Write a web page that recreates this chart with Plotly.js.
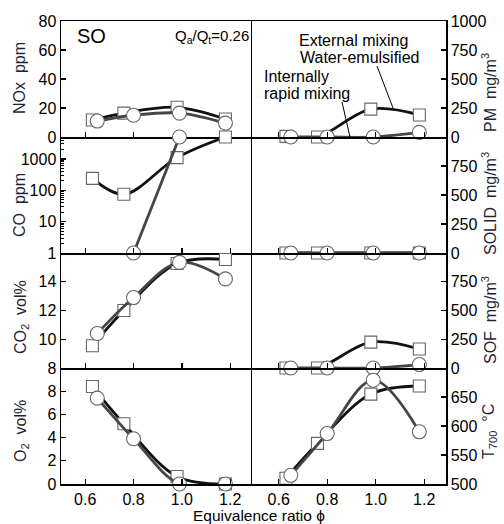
<!DOCTYPE html>
<html>
<head>
<meta charset="utf-8">
<script src="https://cdn.plot.ly/plotly-3.0.1.min.js"></script>
<style>html,body{margin:0;padding:0;background:#fff;}#chart{width:504px;height:524px;}</style>
</head>
<body>
<div id="chart"></div>
<script>
// ---- data ----
const phiSq = [0.63, 0.76, 0.98, 1.18];   // External mixing, water-emulsified (squares)
const phiCi = [0.65, 0.80, 0.99, 1.18];   // Internally rapid mixing (circles)

const noxSq = [11.7, 16.5, 20.5, 12.4];
const noxCi = [11.0, 15.0, 16.5, 9.6];
const coSq = [240, 75, 1100, 5000];
const coCi = [null, 1, 5000, null];
const co2Sq = [9.55, 12.0, 15.27, 15.55];
const co2Ci = [10.4, 12.9, 15.35, 14.2];
const o2Sq = [8.4, 5.2, 0.65, 0.0];
const o2Ci = [7.4, 3.9, 0.0, 0.0];

const pmSq = [5, 0, 240, 190];
const pmCi = [0, 0, 0, 40];
const solidSq = [0, 0, 0, 0];
const solidCi = [0, 0, 0, 0];
const sofSq = [0, 0, 225, 165];
const sofCi = [0, 0, 0, 30];
const tSq = [510, 570, 655, 669];
const tCi = [515, 587, 679, 590];

const xTicks = [0.6, 0.8, 1.0, 1.2];
const xTickText = ['0.6', '0.8', '1.0', '1.2'];
const noxTicks = [0, 20, 40, 60, 80];
const coTicks = [1, 10, 100, 1000];
const co2Ticks = [8, 10, 12, 14];
const o2Ticks = [0, 2, 4, 6, 8];
const pmTicks = [0, 250, 500, 750, 1000];
const solidTicks = [0, 250, 500, 750];
const sofTicks = [0, 250, 500, 750];
const tTicks = [500, 550, 600, 650];

// ---- styling ----
const FONT = 'Liberation Sans, Arial, sans-serif';
const sqLine = {color: '#111111', width: 2.8, shape: 'spline', smoothing: 1};
const ciLine = {color: '#454545', width: 2.8, shape: 'spline', smoothing: 1};
const sqMarker = {symbol: 'square', size: 12, color: '#ffffff', line: {color: '#666666', width: 1.1}};
const ciMarker = {symbol: 'circle', size: 14, color: '#ffffff', line: {color: '#666666', width: 1.1}};

const panels = [
  {sq: noxSq, ci: noxCi}, {sq: coSq, ci: coCi}, {sq: co2Sq, ci: co2Ci}, {sq: o2Sq, ci: o2Ci},
  {sq: pmSq, ci: pmCi}, {sq: solidSq, ci: solidCi}, {sq: sofSq, ci: sofCi}, {sq: tSq, ci: tCi}
];

const traces = [];
panels.forEach((p, i) => {
  const n = i + 1;
  const xa = 'x' + (n === 1 ? '' : n), ya = 'y' + (n === 1 ? '' : n);
  traces.push({x: phiSq, y: p.sq, xaxis: xa, yaxis: ya, mode: 'lines+markers', line: sqLine, marker: sqMarker,
    cliponaxis: false, showlegend: false, name: 'External mixing Water-emulsified', connectgaps: false});
  traces.push({x: phiCi, y: p.ci, xaxis: xa, yaxis: ya, mode: 'lines+markers', line: ciLine, marker: ciMarker,
    cliponaxis: false, showlegend: false, name: 'Internally rapid mixing', connectgaps: false});
});

const colX = [[61/504, 0.5], [0.5, 446/504]];
const rowY = [[1-137/524, 1-21/524], [1-253/524, 1-137/524], [1-368/524, 1-253/524], [1-484/524, 1-368/524]];
const xRanges = [[0.5, 1.29], [0.49, 1.29]];

const axBase = {showline: true, linecolor: '#000', linewidth: 1.5, ticks: 'inside', ticklen: 5,
  tickwidth: 1.3, tickcolor: '#000', showgrid: false, zeroline: false, automargin: false,
  tickfont: {family: FONT, size: 16, color: '#000'}, fixedrange: true};

const layout = {
  width: 504, height: 524, margin: {l: 0, r: 0, t: 0, b: 0},
  paper_bgcolor: '#fff', plot_bgcolor: 'rgba(0,0,0,0)',
  font: {family: FONT, size: 16, color: '#000'},
  showlegend: false
};

const yDefs = [
  {tickvals: noxTicks, range: [0, 80]},
  {tickvals: coTicks, ticktext: ['1', '10', '100', '1000'], type: 'log', range: [0, Math.log10(5000)]},
  {tickvals: co2Ticks, range: [8, 16]},
  {tickvals: o2Ticks, range: [0, 10]},
  {tickvals: pmTicks, range: [0, 1000]},
  {tickvals: solidTicks, range: [0, 1000]},
  {tickvals: sofTicks, range: [0, 1000]},
  {tickvals: tTicks, range: [500, 700]}
];

// minor log ticks for CO axis
const coMinor = [];
for (let d = 1; d <= 1000; d *= 10) for (let k = 2; k <= 9; k++) if (k * d <= 5000) coMinor.push(k * d);

for (let i = 0; i < 8; i++) {
  const n = i + 1;
  const col = i < 4 ? 0 : 1, row = i % 4;
  const xKey = 'xaxis' + (n === 1 ? '' : n), yKey = 'yaxis' + (n === 1 ? '' : n);
  const ya = 'y' + (n === 1 ? '' : n), xa = 'x' + (n === 1 ? '' : n);
  layout[xKey] = Object.assign({}, axBase, {
    domain: colX[col], range: xRanges[col], anchor: ya,
    tickmode: 'array', tickvals: xTicks, ticktext: xTickText,
    showticklabels: row === 3, mirror: row === 0
  });
  const yd = yDefs[i];
  layout[yKey] = Object.assign({}, axBase, {
    domain: rowY[row], anchor: xa, side: col === 0 ? 'left' : 'right',
    tickmode: 'array', tickvals: yd.tickvals, range: yd.range, mirror: col === 1
  });
  if (yd.type) layout[yKey].type = yd.type;
  if (yd.ticktext) layout[yKey].ticktext = yd.ticktext;
  if (i === 1) layout[yKey].minor = {tickmode: 'array', tickvals: coMinor, ticks: 'inside', ticklen: 3, tickwidth: 1, tickcolor: '#000'};
}

const titleColor = '#1e2438';
const P = (px) => px / 504, Q = (py) => 1 - py / 524;
function vtitle(text, px, py) {
  return {text: text, xref: 'paper', yref: 'paper', x: P(px), y: Q(py), textangle: -90, showarrow: false,
    xanchor: 'center', yanchor: 'middle', font: {family: FONT, size: 16, color: titleColor}};
}
function label(text, px, py, size, anchor) {
  return {text: text, xref: 'paper', yref: 'paper', x: P(px), y: Q(py), showarrow: false,
    xanchor: anchor || 'center', yanchor: 'middle', font: {family: FONT, size: size, color: '#000'}};
}
layout.annotations = [
  vtitle('NOx  ppm', 20, 78),
  vtitle('CO  ppm', 20, 205),
  vtitle('CO<sub>2</sub>  vol%', 21, 317),
  vtitle('O<sub>2</sub>  vol%', 21, 431),
  vtitle('PM  mg/m<sup>3</sup>', 489, 93),
  vtitle('SOLID  mg/m<sup>3</sup>', 489, 204),
  vtitle('SOF  mg/m<sup>3</sup>', 489, 320),
  vtitle('T<sub>700</sub>  °C', 489, 432),
  label('SO', 91, 36, 20),
  label('Q<sub>a</sub>/Q<sub>t</sub>=0.26', 212, 37, 15),
  label('External mixing', 297, 40, 16, 'left'),
  label('Water-emulsified', 298, 57, 16, 'left'),
  label('Internally', 262, 76, 16, 'left'),
  label('rapid mixing', 262, 93, 16, 'left'),
  label('Equivalence ratio ϕ', 259, 515.5, 15.5)
];
layout.shapes = [
  {type: 'line', xref: 'paper', yref: 'paper', x0: P(377), y0: Q(66), x1: P(393), y1: Q(108), line: {color: '#000', width: 1}},
  {type: 'line', xref: 'paper', yref: 'paper', x0: P(342), y0: Q(102), x1: P(350), y1: Q(137), line: {color: '#000', width: 1}}
];

Plotly.newPlot('chart', traces, layout, {staticPlot: true, displayModeBar: false});
</script>
</body>
</html>
